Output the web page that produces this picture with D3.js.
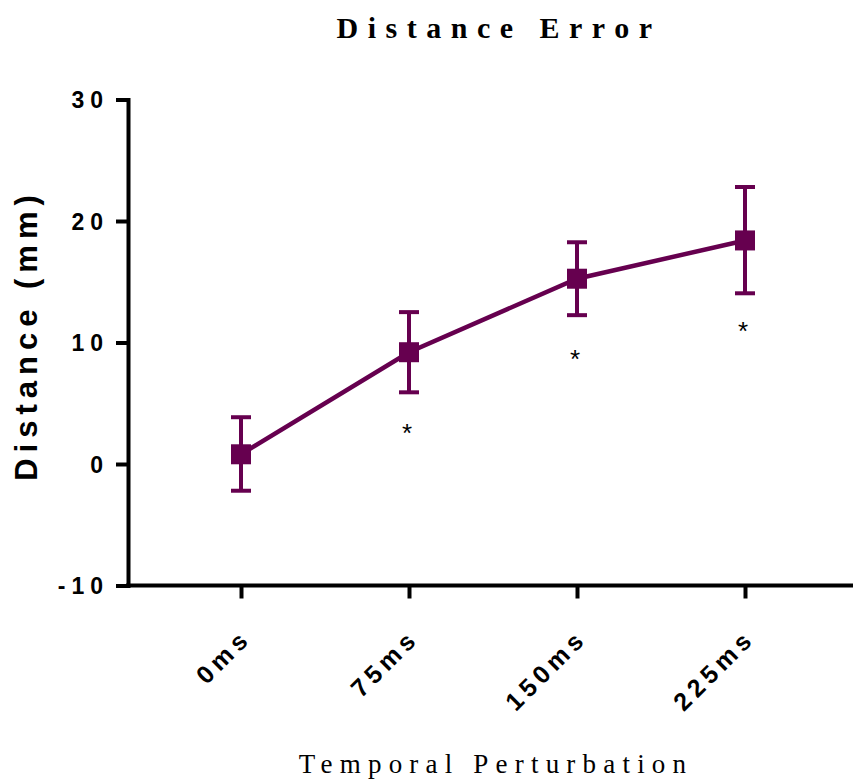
<!DOCTYPE html>
<html>
<head>
<meta charset="utf-8">
<script src="https://cdn.jsdelivr.net/npm/d3@7"></script>
<style>
  body { margin: 0; background: #fff; }
  svg { display: block; }
</style>
</head>
<body>
<div id="chart"></div>
<script>
// values
var categories = ['0ms', '75ms', '150ms', '225ms'];
var means = [0.8, 9.2, 15.25, 18.4];
var upper = [3.85, 12.5, 18.25, 22.8];
var lower = [-2.2, 5.9, 12.25, 14.05];
var starAt = [null, 2.95, 9.05, 11.35];
var yTicks = [-10, 0, 10, 20, 30];

var purple = '#66004f';

var svg = d3.select('#chart')
  .append('svg')
  .attr('width', 853)
  .attr('height', 781);

var y = d3.scaleLinear()
  .domain([-10, 30])
  .range([585.5, 99.5]);

var x = d3.scalePoint()
  .domain(categories)
  .range([241, 745]);

// y axis
var yAxis = svg.append('g')
  .attr('transform', 'translate(128,0)')
  .call(d3.axisLeft(y)
    .tickValues(yTicks)
    .tickSize(12)
    .tickSizeOuter(0)
    .tickPadding(7)
    .tickFormat(function (d) { return String(d); }));

yAxis.select('.domain')
  .attr('stroke', '#000')
  .attr('stroke-width', 4)
  .attr('stroke-linecap', 'square');
yAxis.selectAll('.tick line')
  .attr('stroke', '#000')
  .attr('stroke-width', 4);
yAxis.selectAll('.tick text')
  .attr('font-family', 'Liberation Sans, Arial, sans-serif')
  .attr('font-weight', 'bold')
  .attr('font-size', 23)
  .attr('letter-spacing', 6)
  .attr('dy', '0.36em')
  .attr('fill', '#000');

// x axis
var xAxis = svg.append('g')
  .attr('transform', 'translate(0,585.5)')
  .call(d3.axisBottom(x)
    .tickSize(13)
    .tickSizeOuter(0)
    .tickFormat(''));

xAxis.select('.domain')
  .attr('d', 'M126,0H853')
  .attr('stroke', '#000')
  .attr('stroke-width', 4);
xAxis.selectAll('.tick line')
  .attr('stroke', '#000')
  .attr('stroke-width', 4);

xAxis.selectAll('.tick')
  .append('text')
  .attr('transform', 'translate(11,54) rotate(-45)')
  .attr('text-anchor', 'end')
  .attr('font-family', 'Liberation Sans, Arial, sans-serif')
  .attr('font-weight', 'bold')
  .attr('font-size', 25)
  .attr('letter-spacing', 5)
  .attr('fill', '#000')
  .text(function (d) { return d; });

// connecting line
var line = d3.line()
  .x(function (d, i) { return x(categories[i]); })
  .y(function (d) { return y(d); });

svg.append('path')
  .datum(means)
  .attr('d', line)
  .attr('fill', 'none')
  .attr('stroke', purple)
  .attr('stroke-width', 4.5);

// error bars
var bars = svg.append('g')
  .selectAll('g')
  .data(categories)
  .enter()
  .append('g');

bars.append('line')
  .attr('x1', function (d) { return x(d); })
  .attr('x2', function (d) { return x(d); })
  .attr('y1', function (d, i) { return y(upper[i]); })
  .attr('y2', function (d, i) { return y(lower[i]); })
  .attr('stroke', purple)
  .attr('stroke-width', 4);

bars.append('line')
  .attr('x1', function (d) { return x(d) - 10; })
  .attr('x2', function (d) { return x(d) + 10; })
  .attr('y1', function (d, i) { return y(upper[i]); })
  .attr('y2', function (d, i) { return y(upper[i]); })
  .attr('stroke', purple)
  .attr('stroke-width', 4);

bars.append('line')
  .attr('x1', function (d) { return x(d) - 10; })
  .attr('x2', function (d) { return x(d) + 10; })
  .attr('y1', function (d, i) { return y(lower[i]); })
  .attr('y2', function (d, i) { return y(lower[i]); })
  .attr('stroke', purple)
  .attr('stroke-width', 4);

// square markers
bars.append('rect')
  .attr('x', function (d) { return x(d) - 10; })
  .attr('y', function (d, i) { return y(means[i]) - 10; })
  .attr('width', 20)
  .attr('height', 20)
  .attr('fill', purple);

// significance stars
svg.append('g')
  .selectAll('text')
  .data(categories.filter(function (d, i) { return starAt[i] != null; }))
  .enter()
  .append('text')
  .attr('x', function (d) { return x(d) - 2; })
  .attr('y', function (d) { return y(starAt[categories.indexOf(d)]); })
  .attr('dy', '0.55em')
  .attr('text-anchor', 'middle')
  .attr('font-family', 'Liberation Sans, Arial, sans-serif')
  .attr('font-size', 26)
  .attr('fill', '#000')
  .text('*');

// title
svg.append('text')
  .attr('x', 499)
  .attr('y', 38)
  .attr('text-anchor', 'middle')
  .attr('font-family', 'Liberation Serif, Times New Roman, serif')
  .attr('font-weight', 'bold')
  .attr('font-size', 30)
  .attr('letter-spacing', 9.5)
  .text('Distance Error');

// x axis title
svg.append('text')
  .attr('x', 496)
  .attr('y', 773)
  .attr('text-anchor', 'middle')
  .attr('font-family', 'Liberation Serif, Times New Roman, serif')
  .attr('font-size', 27)
  .attr('letter-spacing', 7.2)
  .text('Temporal Perturbation');

// y axis title
svg.append('text')
  .attr('transform', 'translate(37,335) rotate(-90)')
  .attr('text-anchor', 'middle')
  .attr('font-family', 'Liberation Sans, Arial, sans-serif')
  .attr('font-weight', 'bold')
  .attr('font-size', 31)
  .attr('letter-spacing', 6)
  .text('Distance (mm)');
</script>
</body>
</html>
